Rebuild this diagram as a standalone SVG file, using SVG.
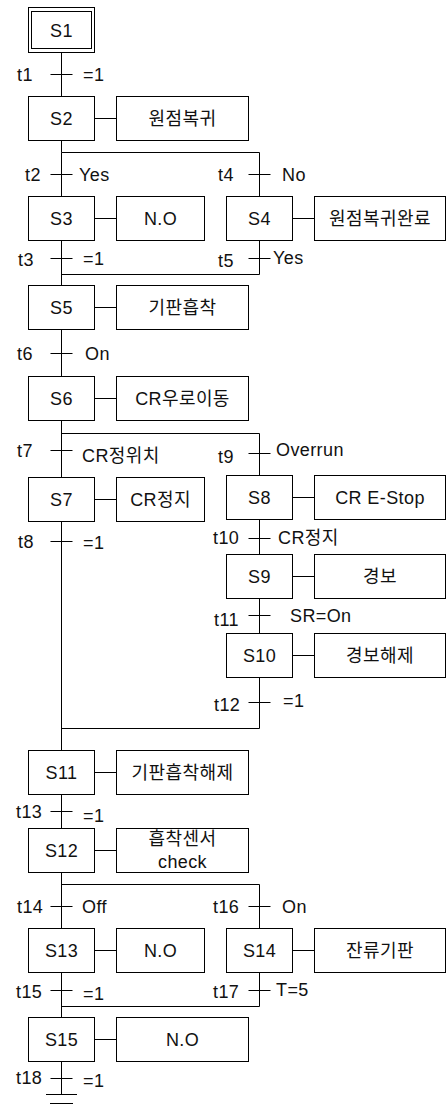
<svg xmlns="http://www.w3.org/2000/svg" width="446" height="1107" viewBox="0 0 446 1107">
<style>
.b{fill:#fff;stroke:#000;stroke-width:1}
.l{fill:none;stroke:#000;stroke-width:1}
text{font-family:"Liberation Sans","Noto Sans CJK KR",sans-serif;font-size:18px;fill:#111;letter-spacing:0.4px}
.c{text-anchor:middle}
</style>
<rect width="446" height="1107" fill="#fff"/>
<g id="connectors" class="l">
<path d="M61.5 52.5V96.5M61.5 140.5V152.5H259.5V196.5M61.5 152.5V196.5M61.5 240.5V285.5M259.5 240.5V274.5H61.5M61.5 329.5V376.5M61.5 420.5V477.5M61.5 433.5H259.5V475.5M61.5 521.5V750.5M259.5 519.5V554.5M259.5 598.5V633.5M259.5 677.5V728.5H61.5M61.5 794.5V828.5M61.5 872.5V928.5M61.5 884.5H259.5V928.5M61.5 972.5V1017.5M259.5 972.5V1006.5H61.5M61.5 1061.5V1094.5"/>
<path d="M46 1094.5H77M50 1103.5H73"/>
<path d="M94.5 118.5H116.5M94.5 218.5H116.5M292.5 218.5H314.5M94.5 307.5H116.5M94.5 398.5H116.5M94.5 499.5H116.5M292.5 497.5H314.5M292.5 576.5H314.5M292.5 655.5H314.5M94.5 772.5H116.5M94.5 850.5H116.5M94.5 950.5H116.5M292.5 950.5H314.5M94.5 1039.5H116.5"/>
<path d="M50.5 74.5H72.5M50.5 174.5H72.5M248.5 174.5H270.5M50.5 258.5H72.5M248.5 258.5H270.5M50.5 353.5H72.5M50.5 450.5H72.5M248.5 453.5H270.5M50.5 541.5H72.5M248.5 538.5H270.5M248.5 615.5H270.5M248.5 702.5H270.5M50.5 811.5H72.5M50.5 906.5H72.5M248.5 906.5H270.5M50.5 990.5H72.5M248.5 990.5H270.5M50.5 1078.5H72.5"/>
</g>
<g id="transitions">
<text x="17" y="81">t1</text><text x="83" y="81">=1</text>
<text x="25" y="180.5">t2</text><text x="79" y="180.5">Yes</text>
<text x="218" y="180.5">t4</text><text x="282" y="180.5">No</text>
<text x="18" y="266">t3</text><text x="83" y="265">=1</text>
<text x="218" y="267">t5</text><text x="273" y="264">Yes</text>
<text x="17" y="359.5">t6</text><text x="85" y="359.5">On</text>
<text x="17" y="457">t7</text><text x="82" y="462">CR정위치</text>
<text x="218" y="463">t9</text><text x="276" y="455.5">Overrun</text>
<text x="18" y="548">t8</text><text x="83" y="549">=1</text>
<text x="213" y="543.5">t10</text><text x="278" y="543.5">CR정지</text>
<text x="214" y="625.5">t11</text><text x="290" y="621.5">SR=On</text>
<text x="214" y="710.5">t12</text><text x="283" y="707">=1</text>
<text x="16" y="818">t13</text><text x="83" y="821.5">=1</text>
<text x="17" y="912.5">t14</text><text x="82" y="912.5">Off</text>
<text x="213" y="912.5">t16</text><text x="282" y="912.5">On</text>
<text x="16" y="998">t15</text><text x="83" y="1000">=1</text>
<text x="213" y="998">t17</text><text x="276" y="995.5">T=5</text>
<text x="16" y="1084">t18</text><text x="83" y="1087">=1</text>
</g>
<g id="S1"><rect class="b" x="28.5" y="7.5" width="66" height="45"/><rect class="b" x="31.5" y="11.5" width="60" height="37"/><text class="c" x="61.5" y="36.5">S1</text></g>
<g id="S2"><rect class="b" x="28.5" y="96.5" width="66" height="44"/><text class="c" x="61.5" y="125">S2</text></g>
<g id="A2"><rect class="b" x="116.5" y="96.5" width="132" height="44"/><text class="c" x="182.5" y="125">원점복귀</text></g>
<g id="S3"><rect class="b" x="28.5" y="196.5" width="66" height="44"/><text class="c" x="61.5" y="225">S3</text></g>
<g id="A3"><rect class="b" x="116.5" y="196.5" width="88" height="44"/><text class="c" x="160.5" y="225">N.O</text></g>
<g id="S4"><rect class="b" x="226.5" y="196.5" width="66" height="44"/><text class="c" x="259.5" y="225">S4</text></g>
<g id="A4"><rect class="b" x="314.5" y="196.5" width="131" height="44"/><text class="c" x="380" y="225">원점복귀완료</text></g>
<g id="S5"><rect class="b" x="28.5" y="285.5" width="66" height="44"/><text class="c" x="61.5" y="314">S5</text></g>
<g id="A5"><rect class="b" x="116.5" y="285.5" width="132" height="44"/><text class="c" x="182.5" y="314">기판흡착</text></g>
<g id="S6"><rect class="b" x="28.5" y="376.5" width="66" height="44"/><text class="c" x="61.5" y="405">S6</text></g>
<g id="A6"><rect class="b" x="116.5" y="376.5" width="132" height="44"/><text class="c" x="182.5" y="405">CR우로이동</text></g>
<g id="S7"><rect class="b" x="28.5" y="477.5" width="66" height="44"/><text class="c" x="61.5" y="506">S7</text></g>
<g id="A7"><rect class="b" x="116.5" y="477.5" width="88" height="44"/><text class="c" x="160.5" y="506">CR정지</text></g>
<g id="S8"><rect class="b" x="226.5" y="475.5" width="66" height="44"/><text class="c" x="259.5" y="504">S8</text></g>
<g id="A8"><rect class="b" x="314.5" y="475.5" width="131" height="44"/><text class="c" x="380" y="504">CR E-Stop</text></g>
<g id="S9"><rect class="b" x="226.5" y="554.5" width="66" height="44"/><text class="c" x="259.5" y="583">S9</text></g>
<g id="A9"><rect class="b" x="314.5" y="554.5" width="131" height="44"/><text class="c" x="380" y="583">경보</text></g>
<g id="S10"><rect class="b" x="226.5" y="633.5" width="66" height="44"/><text class="c" x="259.5" y="662">S10</text></g>
<g id="A10"><rect class="b" x="314.5" y="633.5" width="131" height="44"/><text class="c" x="380" y="662">경보해제</text></g>
<g id="S11"><rect class="b" x="28.5" y="750.5" width="66" height="44"/><text class="c" x="61.5" y="779">S11</text></g>
<g id="A11"><rect class="b" x="116.5" y="750.5" width="132" height="44"/><text class="c" x="182.5" y="779">기판흡착해제</text></g>
<g id="S12"><rect class="b" x="28.5" y="828.5" width="66" height="44"/><text class="c" x="61.5" y="857">S12</text></g>
<g id="A12"><rect class="b" x="116.5" y="828.5" width="132" height="44"/><text class="c" x="182.5" y="844.5">흡착센서</text><text class="c" x="182.5" y="868">check</text></g>
<g id="S13"><rect class="b" x="28.5" y="928.5" width="66" height="44"/><text class="c" x="61.5" y="957">S13</text></g>
<g id="A13"><rect class="b" x="116.5" y="928.5" width="88" height="44"/><text class="c" x="160.5" y="957">N.O</text></g>
<g id="S14"><rect class="b" x="226.5" y="928.5" width="66" height="44"/><text class="c" x="259.5" y="957">S14</text></g>
<g id="A14"><rect class="b" x="314.5" y="928.5" width="131" height="44"/><text class="c" x="380" y="957">잔류기판</text></g>
<g id="S15"><rect class="b" x="28.5" y="1017.5" width="66" height="44"/><text class="c" x="61.5" y="1046">S15</text></g>
<g id="A15"><rect class="b" x="116.5" y="1017.5" width="132" height="44"/><text class="c" x="182.5" y="1046">N.O</text></g>
</svg>
